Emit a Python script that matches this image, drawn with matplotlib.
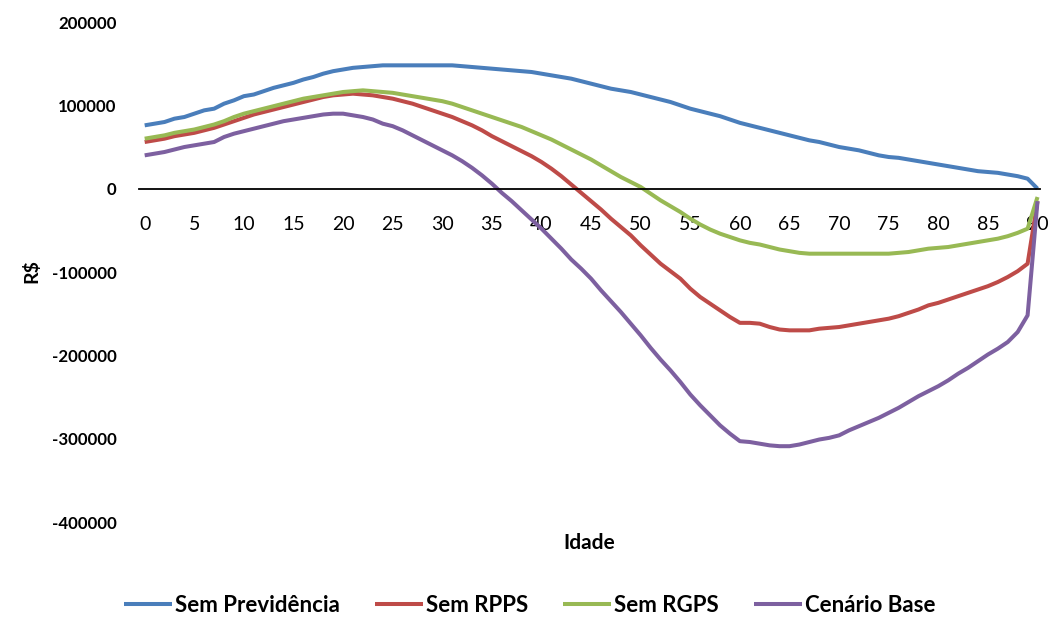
import numpy as np
import matplotlib.pyplot as plt

plt.rcParams['font.family'] = ['Lato', 'DejaVu Sans']

idade = list(range(0, 91))

sem_previdencia = [
    76000, 78000, 80000, 84000, 86000, 90000, 94000, 96000, 102000, 106000,
    111000, 113000, 117000, 121000, 124000, 127000, 131000, 134000, 138000, 141000,
    143000, 145000, 146000, 147000, 148000, 148000, 148000, 148000, 148000, 148000,
    148000, 148000, 147000, 146000, 145000, 144000, 143000, 142000, 141000, 140000,
    138000, 136000, 134000, 132000, 129000, 126000, 123000, 120000, 118000, 116000,
    113000, 110000, 107000, 104000, 100000, 96000, 93000, 90000, 87000, 83000,
    79000, 76000, 73000, 70000, 67000, 64000, 61000, 58000, 56000, 53000,
    50000, 48000, 46000, 43000, 40000, 38000, 37000, 35000, 33000, 31000,
    29000, 27000, 25000, 23000, 21000, 20000, 19000, 17000, 15000, 12000,
    0]

sem_rpps = [
    56000, 58000, 60000, 63000, 65000, 67000, 70000, 73000, 77000, 81000,
    85000, 89000, 92000, 95000, 98000, 101000, 104000, 107000, 110000, 112000,
    113000, 114000, 113000, 112000, 110000, 108000, 105000, 102000, 98000, 94000,
    90000, 86000, 81000, 76000, 70000, 63000, 57000, 51000, 45000, 39000,
    32000, 24000, 15000, 5000, -5000, -15000, -25000, -36000, -46000, -56000,
    -68000, -79000, -90000, -99000, -108000, -120000, -130000, -138000, -146000, -154000,
    -161000, -161000, -162000, -166000, -169000, -170000, -170000, -170000, -168000, -167000,
    -166000, -164000, -162000, -160000, -158000, -156000, -153000, -149000, -145000, -140000,
    -137000, -133000, -129000, -125000, -121000, -117000, -112000, -106000, -99000, -90000,
    -15000]

sem_rgps = [
    60000, 62000, 64000, 67000, 69000, 71000, 74000, 77000, 81000, 86000,
    90000, 93000, 96000, 99000, 102000, 105000, 108000, 110000, 112000, 114000,
    116000, 117000, 118000, 117000, 116000, 115000, 113000, 111000, 109000, 107000,
    105000, 102000, 98000, 94000, 90000, 86000, 82000, 78000, 74000, 69000,
    64000, 59000, 53000, 47000, 41000, 35000, 28000, 21000, 14000, 8000,
    2000, -6000, -14000, -21000, -28000, -36000, -43000, -49000, -54000, -58000,
    -62000, -65000, -67000, -70000, -73000, -75000, -77000, -78000, -78000, -78000,
    -78000, -78000, -78000, -78000, -78000, -78000, -77000, -76000, -74000, -72000,
    -71000, -70000, -68000, -66000, -64000, -62000, -60000, -57000, -53000, -48000,
    -10000]

cenario_base = [
    40000, 42000, 44000, 47000, 50000, 52000, 54000, 56000, 62000, 66000,
    69000, 72000, 75000, 78000, 81000, 83000, 85000, 87000, 89000, 90000,
    90000, 88000, 86000, 83000, 78000, 75000, 70000, 64000, 58000, 52000,
    46000, 40000, 33000, 25000, 16000, 6000, -5000, -15000, -26000, -37000,
    -48000, -60000, -72000, -85000, -96000, -108000, -122000, -135000, -148000, -162000,
    -176000, -191000, -205000, -218000, -232000, -247000, -260000, -272000, -284000, -294000,
    -303000, -304000, -306000, -308000, -309000, -309000, -307000, -304000, -301000, -299000,
    -296000, -290000, -285000, -280000, -275000, -269000, -263000, -256000, -249000, -243000,
    -237000, -230000, -222000, -215000, -207000, -199000, -192000, -184000, -172000, -152000,
    -15000]

series = [
    ('Sem Previdência', sem_previdencia, '#4A7EBB'),
    ('Sem RPPS', sem_rpps, '#BE4B48'),
    ('Sem RGPS', sem_rgps, '#98B954'),
    ('Cenário Base', cenario_base, '#7D60A0'),
]

fig = plt.figure(figsize=(10.51, 6.18), dpi=100)
ax = fig.add_axes([0.132, 0.1553, 0.858, 0.8091])

for name, vals, col in series:
    ax.plot(idade, vals, color=col, linewidth=2.9, label=name, solid_capstyle='butt')

ax.set_xlim(-0.6, 90.3)
ax.set_ylim(-400000, 200000)
ax.set_xticks(range(0, 91, 5))
ax.set_yticks(range(-400000, 200001, 100000))
ax.set_yticklabels([str(v) for v in range(-400000, 200001, 100000)],
                   fontweight='bold', fontsize=12.2)

for s in ['top', 'right', 'left']:
    ax.spines[s].set_visible(False)
ax.spines['bottom'].set_position(('data', 0))
ax.spines['bottom'].set_linewidth(1.3)
ax.tick_params(axis='x', length=0, pad=20, labelsize=14)
ax.tick_params(axis='y', length=0, pad=16)

fig.text(0.561, 0.121, 'Idade', ha='center', va='center', fontsize=15, fontweight='bold')
fig.text(0.030, 0.561, 'R$', ha='center', va='center', fontsize=14, fontweight='bold', rotation=90)

fig.legend(loc='center', bbox_to_anchor=(0.504, 0.021), ncol=4, frameon=False,
           handlelength=2.15, columnspacing=1.6, handletextpad=0.12,
           prop={'weight': 'bold', 'size': 16})

fig.savefig('out.png', dpi=100)
